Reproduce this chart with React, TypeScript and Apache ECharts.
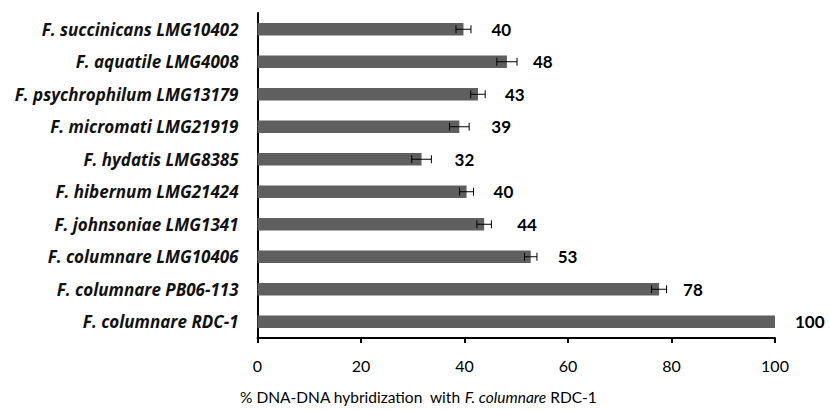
import React, { useEffect, useRef } from "react";
import * as echarts from "echarts";

const categories = [
  "F. succinicans LMG10402",
  "F. aquatile LMG4008",
  "F. psychrophilum LMG13179",
  "F. micromati LMG21919",
  "F. hydatis LMG8385",
  "F. hibernum LMG21424",
  "F. johnsoniae LMG1341",
  "F. columnare LMG10406",
  "F. columnare PB06-113",
  "F. columnare RDC-1",
];
const values = [39.8, 48.2, 42.6, 39.0, 31.7, 40.4, 43.8, 52.8, 77.6, 100];
const errors = [1.45, 1.95, 1.4, 1.9, 1.9, 1.35, 1.4, 1.2, 1.45, 0];
const xTicks = { min: 0, max: 100, interval: 20 };

// label gaps (styling only)
const labelGaps = [28, 26, 27, 32, 33, 27, 33, 27, 24, 20];

const FONT = "Lato";
const CAT_FONT = "Open Sans";

export default function App() {
  const ref = useRef<HTMLDivElement>(null);
  useEffect(() => {
    if (!ref.current) return;
    const chart = echarts.init(ref.current, null, { renderer: "svg" });
    const option: any = {
      animation: false,
      backgroundColor: "#ffffff",
      title: {
        text: "% DNA-DNA hybridization  with {i|F. columnare} RDC-1",
        left: 235,
        top: 384,
        textStyle: {
          fontFamily: FONT,
          fontSize: 15.5,
          fontWeight: "normal",
          color: "#000",
          rich: {
            i: { fontFamily: FONT, fontSize: 15.5, fontStyle: "italic", color: "#000" },
          },
        },
      },
      grid: { left: 257.5, right: 55, top: 13, bottom: 74, containLabel: false },
      xAxis: {
        type: "value",
        min: xTicks.min,
        max: xTicks.max,
        interval: xTicks.interval,
        splitLine: { show: false },
        axisLine: { show: true, lineStyle: { color: "#000", width: 2 } },
        axisTick: { show: true, length: 5, lineStyle: { color: "#000", width: 2 } },
        axisLabel: { fontFamily: FONT, fontSize: 16, color: "#000", margin: 19 },
      },
      yAxis: {
        type: "category",
        inverse: true,
        data: categories,
        axisLine: { show: true, lineStyle: { color: "#000", width: 2 } },
        axisTick: { show: false },
        axisLabel: {
          fontFamily: CAT_FONT,
          fontSize: 17,
          fontWeight: "bold",
          fontStyle: "italic",
          color: "#111",
          margin: 19,
        },
      },
      series: [
        {
          type: "bar",
          data: values.map((v, i) => ({ value: v, label: { distance: labelGaps[i] } })),
          barWidth: 12.5,
          itemStyle: { color: "#5f5f5f" },
          label: {
            show: true,
            position: "right",
            distance: 27,
            fontFamily: FONT,
            fontSize: 17,
            fontWeight: "bold",
            color: "#000",
            formatter: (p: any) => String(Math.round(p.value)),
          },
          z: 2,
        },
        {
          type: "custom",
          z: 3,
          data: values.map((v, i) => [i, v, errors[i]]),
          renderItem: (params: any, api: any) => {
            const i = api.value(0);
            const v = api.value(1);
            const e = api.value(2);
            if (!e) return null;
            const lo = api.coord([v - e, i]);
            const hi = api.coord([v + e, i]);
            const h = 4;
            const style = { stroke: "#000", lineWidth: 1 };
            return {
              type: "group",
              children: [
                { type: "line", shape: { x1: lo[0], y1: lo[1], x2: hi[0], y2: hi[1] }, style },
                { type: "line", shape: { x1: lo[0], y1: lo[1] - h, x2: lo[0], y2: lo[1] + h }, style },
                { type: "line", shape: { x1: hi[0], y1: hi[1] - h, x2: hi[0], y2: hi[1] + h }, style },
              ],
            };
          },
        },
      ],
    };
    chart.setOption(option);
    return () => chart.dispose();
  }, []);
  return <div ref={ref} style={{ width: 830, height: 412, position: "absolute", left: 0, top: 0 }} />;
}
